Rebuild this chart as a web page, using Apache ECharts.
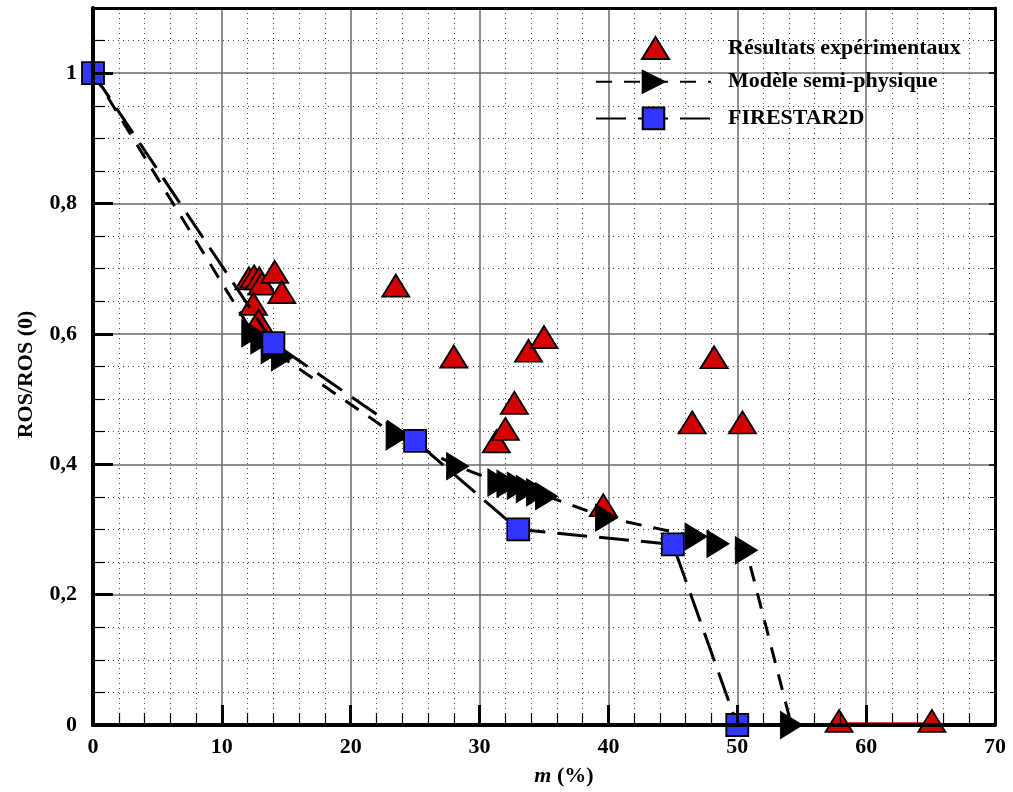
<!DOCTYPE html>
<html>
<head>
<meta charset="utf-8">
<script src="https://cdn.jsdelivr.net/npm/echarts@6/dist/echarts.min.js"></script>
<style>
html,body{margin:0;padding:0;background:#fff;}
#chart{width:1013px;height:792px;}
</style>
</head>
<body>
<div id="chart"></div>
<script>
// ---- data ----
const expX = [12.1, 12.5, 12.9, 13.1, 14.1, 14.65, 12.45, 12.85, 23.5, 28.0, 31.3, 32.0, 32.7, 33.8, 35.0, 39.6, 46.5, 48.2, 50.4, 57.9, 65.1];
const expY = [0.679, 0.682, 0.679, 0.671, 0.689, 0.658, 0.640, 0.614, 0.668, 0.559, 0.429, 0.448, 0.488, 0.568, 0.589, 0.331, 0.458, 0.558, 0.458, 0, 0];

const semiX = [0, 12.4, 13.1, 13.9, 14.7, 23.6, 28.3, 31.5, 32.2, 33.0, 33.7, 34.5, 35.2, 39.85, 46.8, 48.5, 50.7, 54.2];
const semiY = [1, 0.601, 0.590, 0.575, 0.564, 0.443, 0.397, 0.372, 0.370, 0.367, 0.362, 0.357, 0.351, 0.318, 0.289, 0.278, 0.268, 0];

const fireX = [0, 14, 25, 33, 45, 50];
const fireY = [1, 0.586, 0.436, 0.300, 0.277, 0];

const redSegX = [57.9, 65.1];
const redSegY = [0.002, 0.002];

const xTicks = [0, 10, 20, 30, 40, 50, 60, 70];
const yTickLabels = ['0', '0,2', '0,4', '0,6', '0,8', '1'];

const seriesNames = ['Résultats expérimentaux', 'Modèle semi-physique', 'FIRESTAR2D'];

// ---- build ----
const zip = (xs, ys) => xs.map((x, i) => [x, ys[i]]);
const FONT = 'Liberation Serif';
const RED = '#d40000';
const BLUE = '#3434ff';
const arrowPath = 'path://M0,0 L10,5 L0,10 Z';

function yFmt(v) {
  const k = v / 0.2;
  if (Math.abs(k - Math.round(k)) > 1e-6) return '';
  const idx = Math.round(k);
  return yTickLabels[idx] !== undefined ? yTickLabels[idx] : '';
}
function xFmt(v) {
  const r = Math.round(v);
  return xTicks.indexOf(r) >= 0 && Math.abs(v - r) < 1e-6 ? String(r) : '';
}

const semiData = zip(semiX, semiY).map((p, i) => i === 0 ? {value: p, symbol: 'none'} : p);
const fireData = zip(fireX, fireY);

const chart = echarts.init(document.getElementById('chart'), null, {renderer: 'canvas'});

const labelStyle = {fontFamily: FONT, fontWeight: 'bold', fontSize: 22, color: '#000'};
const legendText = {fontFamily: FONT, fontWeight: 'bold', fontSize: 22, color: '#000'};

chart.setOption({
  animation: false,
  backgroundColor: '#fff',
  grid: {left: 93, right: 18, top: 8, bottom: 67, containLabel: false},
  legend: [
    {
      orient: 'vertical', left: 636, top: 31,
      itemWidth: 27, itemHeight: 22, itemGap: 10,
      data: [seriesNames[0]],
      textStyle: Object.assign({padding: [0, 0, 0, 54]}, legendText)
    },
    {
      orient: 'vertical', left: 590, top: 65,
      itemWidth: 115, itemHeight: 27, itemGap: 13,
      data: [seriesNames[1], seriesNames[2]],
      textStyle: Object.assign({padding: [0, 0, 0, 12]}, legendText)
    }
  ],
  xAxis: [
    {
      type: 'value', min: 0, max: 70, interval: 10, position: 'bottom', z: 0,
      name: '{i|m} (%)', nameLocation: 'middle', nameGap: 40,
      nameTextStyle: {fontFamily: FONT, fontWeight: 'bold', fontSize: 22, color: '#000', padding: [0, 0, 0, 40],
        rich: {i: {fontFamily: FONT, fontWeight: 'bold', fontStyle: 'italic', fontSize: 22, color: '#000'}}},
      axisLine: {show: false},
      axisTick: {show: false},
      axisLabel: Object.assign({margin: 11, formatter: xFmt}, labelStyle),
      splitLine: {show: true, lineStyle: {color: '#6a6a6a', width: 1.5}},
      minorTick: {show: false, splitNumber: 5},
      minorSplitLine: {show: true, lineStyle: {color: '#444', width: 1, type: [1, 4]}}
    },
    {
      type: 'value', min: 0, max: 70, interval: 10, position: 'bottom', z: 10,
      axisLine: {show: true, onZero: false, lineStyle: {color: '#000', width: 4}},
      axisTick: {show: true, inside: true, length: 20, lineStyle: {color: '#000', width: 3}},
      minorTick: {show: true, splitNumber: 5, length: 12, lineStyle: {color: '#000', width: 1.2}},
      axisLabel: {show: false},
      splitLine: {show: false}
    },
    {
      type: 'value', min: 0, max: 70, interval: 10, position: 'top', z: 10,
      axisLine: {show: true, onZero: false, lineStyle: {color: '#000', width: 3}},
      axisTick: {show: false},
      axisLabel: {show: false},
      splitLine: {show: false}
    }
  ],
  yAxis: [
    {
      type: 'value', min: 0, max: 1.1, interval: 0.2, position: 'left', z: 0,
      name: 'ROS/ROS (0)', nameLocation: 'middle', nameGap: 56, nameRotate: 90,
      nameTextStyle: {fontFamily: FONT, fontWeight: 'bold', fontSize: 22, color: '#000', padding: [0, 16, 0, 0]},
      axisLine: {show: false},
      axisTick: {show: false},
      axisLabel: Object.assign({margin: 16, formatter: yFmt}, labelStyle),
      splitLine: {show: true, lineStyle: {color: '#6a6a6a', width: 1.5}},
      minorTick: {show: false, splitNumber: 4},
      minorSplitLine: {show: true, lineStyle: {color: '#444', width: 1, type: [1, 4]}}
    },
    {
      type: 'value', min: 0, max: 1.1, interval: 0.2, position: 'left', z: 10,
      axisLine: {show: true, onZero: false, lineStyle: {color: '#000', width: 4}},
      axisTick: {show: true, inside: true, length: 20, lineStyle: {color: '#000', width: 3}},
      minorTick: {show: true, splitNumber: 4, length: 12, lineStyle: {color: '#000', width: 1.2}},
      axisLabel: {show: false},
      splitLine: {show: false}
    },
    {
      type: 'value', min: 0, max: 1.1, interval: 0.2, position: 'right', z: 10,
      axisLine: {show: true, onZero: false, lineStyle: {color: '#000', width: 3}},
      axisTick: {show: true, inside: true, length: 6, lineStyle: {color: '#000', width: 1.5}},
      minorTick: {show: true, splitNumber: 4, length: 5, lineStyle: {color: '#000', width: 1}},
      axisLabel: {show: false},
      splitLine: {show: false}
    }
  ],
  series: [
    {
      name: 'redseg', type: 'line', data: zip(redSegX, redSegY), symbol: 'none',
      lineStyle: {color: RED, width: 3}, z: 2, silent: true
    },
    {
      name: seriesNames[0], type: 'scatter', data: zip(expX, expY),
      symbol: 'triangle', symbolSize: [27, 22], symbolOffset: [0, -4],
      itemStyle: {color: RED, borderColor: '#000', borderWidth: 1.8, opacity: 1}, z: 3
    },
    {
      name: seriesNames[1], type: 'line', data: semiData,
      symbol: arrowPath, symbolSize: [22, 27], showAllSymbol: true,
      itemStyle: {color: '#000', borderColor: '#000', borderWidth: 1},
      lineStyle: {color: '#000', width: 3, type: [16, 12]}, z: 4
    },
    {
      name: seriesNames[2], type: 'line', data: fireData,
      symbol: 'rect', symbolSize: 22, showAllSymbol: true,
      itemStyle: {color: BLUE, borderColor: '#000', borderWidth: 1.8},
      lineStyle: {color: '#000', width: 3, type: [30, 12]}, z: 5
    }
  ]
});
</script>
</body>
</html>
